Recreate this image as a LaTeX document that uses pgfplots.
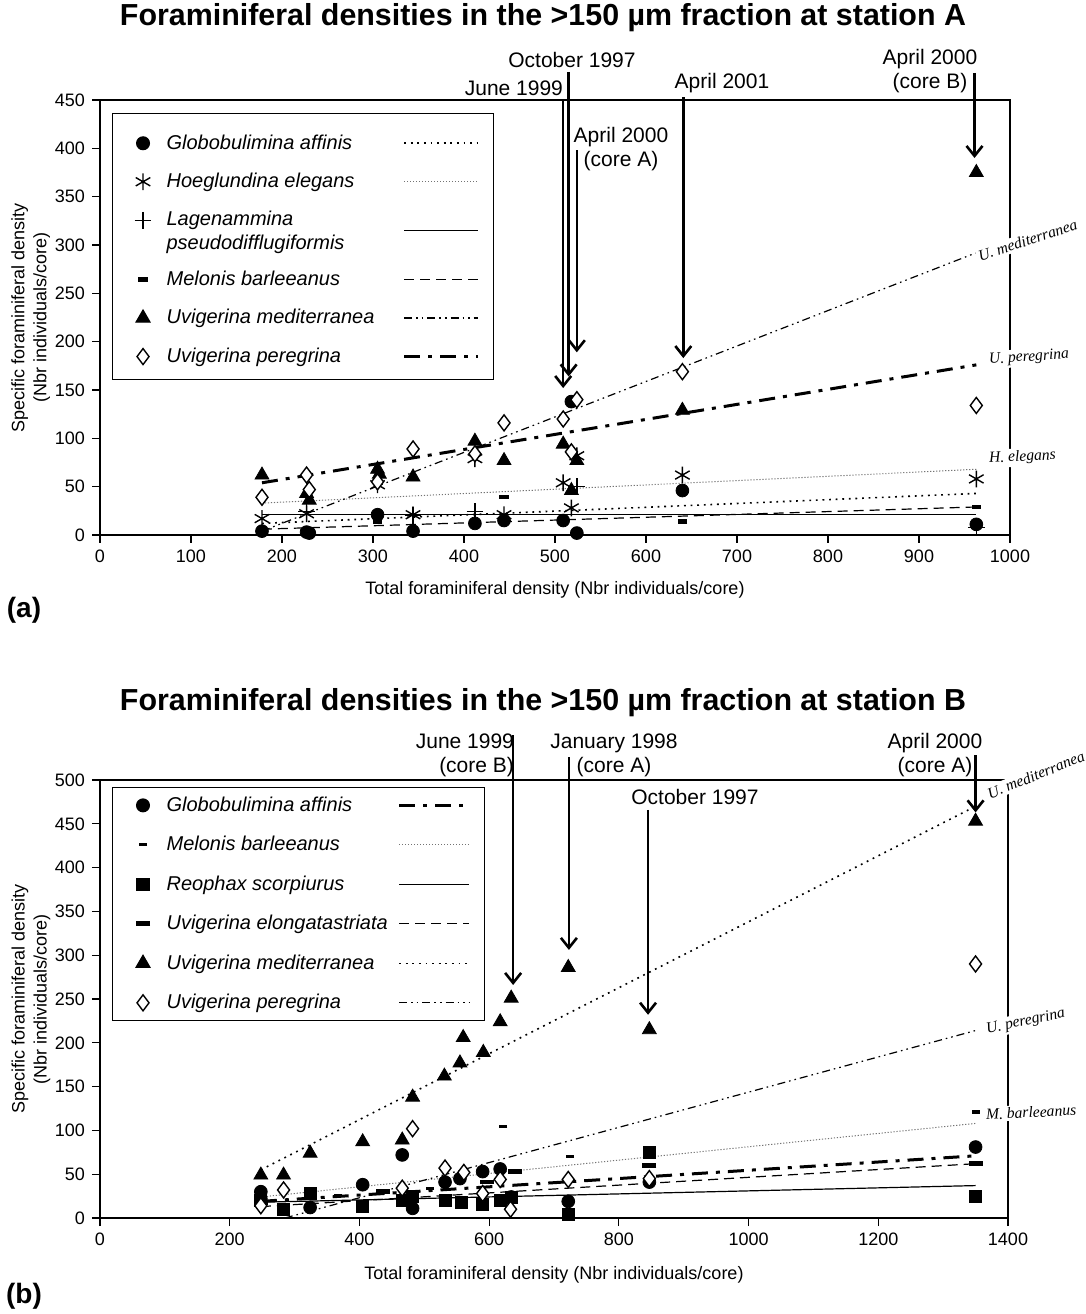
\documentclass[border=0pt]{standalone}
\usepackage{fontspec}
\setmainfont{Liberation Sans}
\newfontfamily\timesit{Liberation Serif}
\usepackage{pgfplots}
\pgfplotsset{compat=1.18}
\usetikzlibrary{arrows.meta}

% trend line styles
\tikzset{
  ldot/.style={line width=0.8pt, dash pattern=on 0.9pt off 2.4pt},
  lfine/.style={line width=0.5pt, black!55, dash pattern=on 0.6pt off 0.9pt},
  lsolid/.style={line width=0.6pt, solid},
  ldash/.style={line width=0.6pt, dash pattern=on 5pt off 3pt},
  ldd/.style={line width=0.6pt, dash pattern=on 4pt off 2pt on 0.8pt off 2pt on 0.8pt off 2pt},
  lthick/.style={line width=1.5pt, dash pattern=on 8pt off 4pt on 2pt off 4pt},
  arr/.style={line width=1.3pt, -{Straight Barb[length=5pt,width=8pt]}},
  sidelab/.style={font=\timesit\itshape\fontsize{7.8}{9}\selectfont, fill=white, inner sep=1pt, anchor=base west},
  datelab/.style={font=\fontsize{10.5}{12}\selectfont, align=center},
}

\newlength{\ltw}
\newcommand{\lt}[1]{\makebox[\ltw][l]{#1}}

\pgfplotsset{
  tleg/.style={legend image code/.code={\draw[##1] (0pt,0pt) -- (37pt,0pt);}},
  tlegb/.style={legend image code/.code={\draw[##1] (0pt,0pt) -- (35pt,0pt);}},
  tlegdown/.style={legend image code/.code={\draw[##1] (0pt,-5pt) -- (37pt,-5pt); \path (0pt,-16.5pt);}},
  mleg/.style={legend image code/.code={\draw[##1] plot coordinates {(12pt,0pt)}; \path (0pt,0pt) (21.5pt,0pt);}},
  mlegtop/.style={legend image code/.code={\draw[##1] plot coordinates {(12pt,0pt)}; \path (0pt,0pt) (21.5pt,9.5pt);}},
  mcirc/.style={only marks, mark=*, mark size=3.2pt, black, mleg},
  mast/.style={only marks, mark=asterisk, mark size=4.2pt, black, mark options={line width=0.7pt}, mleg},
  mplus/.style={only marks, mark=+, mark size=4.2pt, black, mark options={line width=0.7pt}, mleg},
  mdash/.style={only marks, mark=-, mark size=2.3pt, black, mark options={line width=2.2pt}, mleg},
  mdashs/.style={only marks, mark=-, mark size=2pt, black, mark options={line width=1.6pt}, mleg},
  mdashl/.style={only marks, mark=-, mark size=3.5pt, black, mark options={line width=2.4pt}, mleg},
  mtri/.style={only marks, mark=triangle*, mark size=4pt, black, mleg},
  mdia/.style={only marks, mark=diamond*, mark size=4pt, black, mark options={fill=white, line width=0.7pt}, mleg},
  msq/.style={only marks, mark=square*, mark size=3pt, black, mleg},
  panel/.style={
    scale only axis, clip=false,
    axis line style={line width=0.6pt},
    tick align=outside, major tick length=4pt, tick style={line width=0.6pt, black},
    xtick pos=lower, ytick pos=left,
    tick label style={font=\fontsize{9}{10}\selectfont},
    label style={font=\fontsize{9}{11}\selectfont},
    /pgf/number format/assume math mode=true,
    /pgf/number format/1000 sep={},
    ylabel style={align=center},
    legend columns=2, legend cell align=left,
    legend style={draw=black, line width=0.6pt, font=\fontsize{10}{12}\selectfont\itshape,
      row sep=6.5pt, column sep=0pt, inner xsep=3pt, inner ysep=5pt, anchor=north west},
  },
}

\begin{document}
\begin{tikzpicture}
\path[use as bounding box] (0pt,0pt) rectangle (543pt,657pt);

% ---------------- panel (a) ----------------
\setlength{\ltw}{116pt}
\begin{axis}[panel, at={(50pt,389.5pt)}, anchor=south west,
  width=455pt, height=217.5pt,
  xmin=0, xmax=1000, ymin=0, ymax=450,
  xtick={0,100,...,1000}, ytick={0,50,...,450},
  xlabel={Total foraminiferal density (Nbr individuals/core)},
  ylabel={Specific foraminiferal density\\(Nbr individuals/core)},
  xlabel style={at={(axis description cs:0.5,-0.126)}, anchor=center},
  ylabel style={at={(axis description cs:-0.076,0.5)}, anchor=center},
  legend style={at={(0.013,0.97)}},
]
% trend lines
\addplot[forget plot, ldot]   coordinates {(178,12) (963,43)};
\addplot[forget plot, lfine]  coordinates {(178,33) (963,68)};
\addplot[forget plot, lsolid] coordinates {(178,21) (963,21)};
\addplot[forget plot, ldash]  coordinates {(178,6) (963,29)};
\addplot[forget plot, ldd]    coordinates {(178,4) (963,292)};
\addplot[forget plot, lthick] coordinates {(178,54) (963,176)};

\addplot[mcirc, mlegtop] coordinates {(178,4) (227,3) (230,2) (305,21) (344,4) (412,12)
  (444,15) (509,15) (518,138) (524,2) (640,46) (963,11)};
\addlegendentry{\lt{Globobulimina affinis}}
\addlegendimage{tleg, ldot}\addlegendentry{}

\addplot[mast] coordinates {(178,17) (227,22) (305,52) (344,21) (412,79) (444,21)
  (509,54) (518,28) (524,82) (640,62) (963,58)};
\addlegendentry{\lt{Hoeglundina elegans}}
\addlegendimage{tleg, lfine}\addlegendentry{}

\addplot[mplus] coordinates {(227,24) (344,20) (412,24) (524,50) (963,8)};
\addlegendentry{\parbox[t]{116pt}{\raggedright Lagenammina\newline pseudodifflugiformis}}
\addlegendimage{tlegdown, lsolid}\addlegendentry{}

\addplot[mdash] coordinates {(305,14) (444,39) (524,4) (640,14) (963,29)};
\addlegendentry{\lt{Melonis barleeanus}}
\addlegendimage{tleg, ldash}\addlegendentry{}

\addplot[mtri] coordinates {(178,62) (227,43) (230,36) (305,68) (307,63) (344,60)
  (412,97) (444,77) (509,94) (518,46) (524,77) (640,129) (963,375)};
\addlegendentry{\lt{Uvigerina mediterranea}}
\addlegendimage{tleg, ldd}\addlegendentry{}

\addplot[mdia] coordinates {(178,39) (227,62) (230,47) (305,55) (344,89) (412,84)
  (444,116) (509,120) (518,86) (524,140) (640,169) (963,134)};
\addlegendentry{\lt{Uvigerina peregrina}}
\addlegendimage{tleg, lthick}\addlegendentry{}

% date arrows
\draw[arr] (axis cs:509,451) -- (axis cs:509,152);
\draw[arr] (axis cs:515,479) -- (axis cs:515,164);
\draw[arr] (axis cs:524,398) -- (axis cs:524,189);
\draw[arr] (axis cs:641,453) -- (axis cs:641,183);
\draw[arr] (axis cs:961,478) -- (axis cs:961,390);
\end{axis}

% ---------------- panel (b) ----------------
\setlength{\ltw}{113.5pt}
\begin{axis}[panel, at={(50pt,48pt)}, anchor=south west,
  width=454pt, height=219pt,
  xmin=0, xmax=1400, ymin=0, ymax=500,
  xtick={0,200,...,1400}, ytick={0,50,...,500},
  xlabel={Total foraminiferal density (Nbr individuals/core)},
  ylabel={Specific foraminiferal density\\(Nbr individuals/core)},
  xlabel style={at={(axis description cs:0.5,-0.130)}, anchor=center},
  ylabel style={at={(axis description cs:-0.076,0.5)}, anchor=center},
  legend style={at={(0.013,0.984)}, row sep=7pt, inner ysep=2.5pt},
]
% trend lines
\addplot[forget plot, lthick] coordinates {(248,19) (1350,71)};
\addplot[forget plot, lfine]  coordinates {(248,24) (1350,108)};
\addplot[forget plot, lsolid] coordinates {(248,18) (1350,37)};
\addplot[forget plot, ldash]  coordinates {(248,13) (1350,62)};
\addplot[forget plot, ldot]   coordinates {(248,55) (1350,470)};
\addplot[forget plot, ldd]    coordinates {(285,0) (1350,214)};

\addplot[mcirc] coordinates {(248,30) (248,22) (324,12) (405,38) (466,72) (482,11)
  (532,41) (555,45) (590,53) (617,56) (634,24) (722,19) (847,41) (1350,81)};
\addlegendentry{\lt{Globobulimina affinis}}
\addlegendimage{tlegb, lthick}\addlegendentry{}

\addplot[mdashs] coordinates {(367,26) (509,34) (622,104) (725,70) (1350,121)};
\addlegendentry{\lt{Melonis barleeanus}}
\addlegendimage{tlegb, lfine}\addlegendentry{}

\addplot[msq] coordinates {(248,20) (283,10) (324,28) (405,13) (466,20) (482,25)
  (532,20) (557,18) (590,15) (617,20) (634,24) (722,4) (847,75) (1350,25)};
\addlegendentry{\lt{Reophax scorpiurus}}
\addlegendimage{tlegb, lsolid}\addlegendentry{}

\addplot[mdashl] coordinates {(248,18) (436,30) (596,41) (640,53) (847,60) (1350,62)};
\addlegendentry{\lt{Uvigerina elongatastriata}}
\addlegendimage{tlegb, ldash}\addlegendentry{}

\addplot[mtri] coordinates {(248,49) (283,49) (324,74) (405,87) (466,89) (482,138)
  (531,162) (555,177) (560,206) (591,189) (617,224) (634,251) (722,286) (847,215) (1350,453)};
\addlegendentry{\lt{Uvigerina mediterranea}}
\addlegendimage{tlegb, ldot}\addlegendentry{}

\addplot[mdia] coordinates {(248,14) (283,32) (466,34) (482,102) (532,57) (561,52)
  (590,28) (617,44) (633,10) (722,44) (847,45) (1350,290)};
\addlegendentry{\lt{Uvigerina peregrina}}
\addlegendimage{tlegb, ldd}\addlegendentry{}

\draw[arr] (axis cs:637,551) -- (axis cs:637,266);
\draw[arr] (axis cs:723,526) -- (axis cs:723,306);
\draw[arr] (axis cs:845,466) -- (axis cs:845,232);
\draw[arr] (axis cs:1350,528) -- (axis cs:1350,463);
\end{axis}

% titles and panel letters
\node[font=\bfseries\fontsize{15.2}{17}\selectfont] at (271.5pt,648pt)
  {Foraminiferal densities in the >150 µm fraction at station A};
\node[font=\bfseries\fontsize{15.2}{17}\selectfont] at (271.5pt,305.5pt)
  {Foraminiferal densities in the >150 µm fraction at station B};
\node[font=\bfseries\fontsize{14}{16}\selectfont] at (12pt,352pt) {(a)};
\node[font=\bfseries\fontsize{14}{16}\selectfont] at (12pt,9pt) {(b)};

% date labels (a)
\node[datelab, anchor=east] at (285pt,613pt) {June 1999};
\node[datelab] at (286pt,627pt) {October 1997};
\node[datelab] at (310.5pt,582.5pt) {April 2000\\(core A)};
\node[datelab] at (361pt,615.5pt) {April 2001};
\node[datelab] at (465pt,621.5pt) {April 2000\\(core B)};
% date labels (b)
\node[datelab, align=right, anchor=east] at (260.5pt,279.5pt) {June 1999\\(core B)};
\node[datelab] at (307pt,279.5pt) {January 1998\\(core A)};
\node[datelab] at (347.5pt,258.5pt) {October 1997};
\node[datelab] at (467.5pt,279.5pt) {April 2000\\(core A)};

% trend labels
\node[sidelab, rotate=18] at (489pt,526pt) {U. mediterranea};
\node[sidelab, rotate=4]  at (493.5pt,475pt) {U. peregrina};
\node[sidelab, rotate=3]  at (493.5pt,425.5pt) {H. elegans};
\node[sidelab, rotate=22] at (494pt,257pt) {U. mediterranea};
\node[sidelab, rotate=12] at (492.5pt,140pt) {U. peregrina};
\node[sidelab, rotate=3]  at (492pt,97pt) {M. barleeanus};
\end{tikzpicture}
\end{document}
